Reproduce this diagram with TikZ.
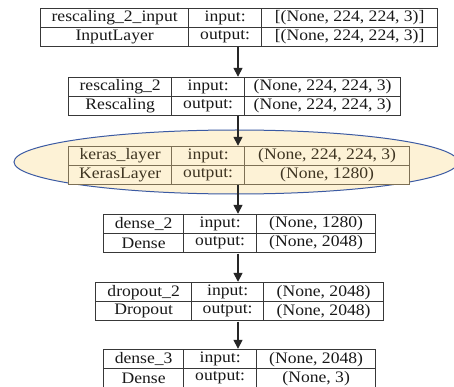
\documentclass[tikz,border=0pt]{standalone}
\usepackage{fontspec}
\setmainfont{Liberation Serif}[FakeStretch=1.1]
\usetikzlibrary{arrows.meta, positioning, fit, shapes.geometric}

\definecolor{cream}{HTML}{FDF2D6}
\definecolor{brownline}{HTML}{7D7055}
\definecolor{blueline}{HTML}{3B5AA3}
\definecolor{kerastext}{HTML}{3F3522}

\begin{document}
\begin{tikzpicture}[
    x=1pt, y=-1pt,
    every node/.style={font=\fontsize{16}{18}\selectfont},
    cell/.style={draw=black!78, line width=1.3pt, inner sep=0pt, minimum height=19pt, anchor=north west, text=black!90},
    plaincell/.style={},
    kerascell/.style={fill=cream, draw=brownline, text=kerastext},
    arr/.style={-{Triangle[length=9pt,width=9pt]}, line width=1.5pt, black!85}
]

\path[use as bounding box, fill=white] (0,0) rectangle (454,387);

% highlighted hub layer
\node[ellipse, draw=blueline, line width=1pt, fill=cream, inner sep=0pt,
      minimum width=444pt, minimum height=64pt] (blob) at (236,162) {};

% one row per layer: name / top / column edges / style / texts
\foreach \n/\t/\a/\b/\c/\d/\s/\nm/\cl/\ip/\op in {
    1/8/40/188/261/437/plaincell/rescaling\_2\_input/InputLayer/{[(None, 224, 224, 3)]}/{[(None, 224, 224, 3)]},
    2/77/68/171/244/400/plaincell/rescaling\_2/Rescaling/{(None, 224, 224, 3)}/{(None, 224, 224, 3)},
    3/146/68/171/244/409/kerascell/keras\_layer/KerasLayer/{(None, 224, 224, 3)}/{(None, 1280)},
    4/214/103/183/256/375/plaincell/dense\_2/Dense/{(None, 1280)}/{(None, 2048)},
    5/282/95/191/263/383/plaincell/dropout\_2/Dropout/{(None, 2048)}/{(None, 2048)},
    6/349/103/183/256/375/plaincell/dense\_3/Dense/{(None, 2048)}/{(None, 3)}
} {
    \node[cell, \s, minimum width=\b-\a] (n\n) at (\a,\t) {\nm};
    \node[cell, \s, minimum width=\c-\b] (i\n) at (\b,\t) {input:};
    \node[cell, \s, minimum width=\d-\c] (v\n) at (\c,\t) {\ip};
    \node[cell, \s, minimum width=\b-\a] (k\n) at (\a,\t+19) {\cl};
    \node[cell, \s, minimum width=\c-\b] (o\n) at (\b,\t+19) {output:};
    \node[cell, \s, minimum width=\d-\c] (w\n) at (\c,\t+19) {\op};
    \node[fit=(n\n)(w\n), inner sep=0pt] (l\n) {};
}

\coordinate (axis) at (238,0);
\foreach \a/\b in {1/2, 2/3, 3/4, 4/5, 5/6}
    \draw[arr] (axis |- l\a.south) -- (axis |- l\b.north);

\end{tikzpicture}
\end{document}
